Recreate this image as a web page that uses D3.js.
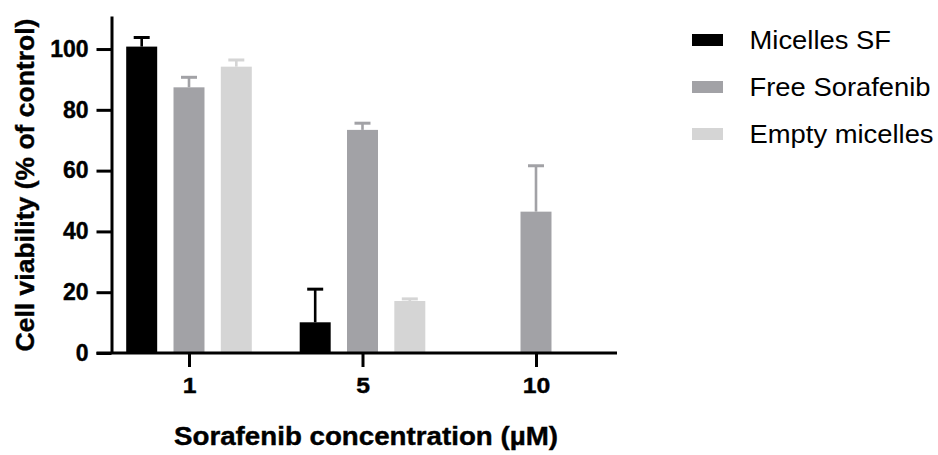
<!DOCTYPE html>
<html>
<head>
<meta charset="utf-8">
<script src="https://cdn.jsdelivr.net/npm/d3@7"></script>
<style>
  body { margin: 0; background: #fff; }
  text { font-family: "Liberation Sans", Arial, sans-serif; }
</style>
</head>
<body>
<svg id="chart" width="938" height="455"></svg>
<script>
// data
var concentrations = ["1", "5", "10"];
var seriesNames = ["Micelles SF", "Free Sorafenib", "Empty micelles"];
var seriesColors = ["#000000", "#a2a2a6", "#d5d5d5"];
var micellesSF = [100.8, 10.1, null];
var micellesSFErr = [3.0, 10.9, null];
var freeSorafenib = [87.4, 73.4, 46.5];
var freeSorafenibErr = [3.3, 2.2, 15.1];
var emptyMicelles = [94.2, 17.1, null];
var emptyMicellesErr = [2.2, 0.7, null];
var yTicks = [0, 20, 40, 60, 80, 100];

var values = [micellesSF, freeSorafenib, emptyMicelles];
var errors = [micellesSFErr, freeSorafenibErr, emptyMicellesErr];

var svg = d3.select("#chart");

var y = d3.scaleLinear().domain([0, 110.9]).range([353, 15.9]);
var x0 = d3.scalePoint().domain(concentrations).range([189, 536]);
var x1 = d3.scaleBand().domain(seriesNames).range([-62.8, 62.8]).paddingInner(0.345);

// stretch text a little wider, the source picture renders it that way
function widen(sel, k) {
  sel.each(function() {
    var len = this.getComputedTextLength();
    d3.select(this).attr("textLength", len * k).attr("lengthAdjust", "spacingAndGlyphs");
  });
}

var aBars = [];
seriesNames.forEach(function(s, i) {
  concentrations.forEach(function(c, j) {
    if (values[i][j] != null) {
      aBars.push({ s: s, c: c, v: values[i][j], e: errors[i][j], color: seriesColors[i] });
    }
  });
});

var g = svg.append("g");

g.selectAll("rect.bar").data(aBars).enter().append("rect")
  .attr("class", "bar")
  .attr("x", function(d) { return x0(d.c) + x1(d.s); })
  .attr("width", x1.bandwidth())
  .attr("y", function(d) { return y(d.v); })
  .attr("height", function(d) { return y(0) - y(d.v); })
  .attr("fill", function(d) { return d.color; });

// error bars (upper only)
function cx(d) { return x0(d.c) + x1(d.s) + x1.bandwidth() / 2; }
var selErr = g.selectAll("g.err").data(aBars).enter().append("g").attr("class", "err");
selErr.append("line")
  .attr("x1", cx).attr("x2", cx)
  .attr("y1", function(d) { return y(d.v); })
  .attr("y2", function(d) { return y(d.v + d.e); })
  .attr("stroke", function(d) { return d.color; })
  .attr("stroke-width", 2.6);
selErr.append("line")
  .attr("x1", function(d) { return cx(d) - 8; })
  .attr("x2", function(d) { return cx(d) + 8; })
  .attr("y1", function(d) { return y(d.v + d.e); })
  .attr("y2", function(d) { return y(d.v + d.e); })
  .attr("stroke", function(d) { return d.color; })
  .attr("stroke-width", 3);

// y axis
var yAxis = svg.append("g")
  .attr("transform", "translate(111.5,0)")
  .call(d3.axisLeft(y).tickValues(yTicks).tickSize(15).tickPadding(8).tickSizeOuter(0));
yAxis.select(".domain").attr("stroke", "#000").attr("stroke-width", 3);
yAxis.selectAll(".tick line").attr("stroke", "#000").attr("stroke-width", 3);
yAxis.selectAll(".tick text")
  .attr("font-size", 23).attr("font-weight", "bold").attr("fill", "#000")
  .attr("stroke", "#000").attr("stroke-width", 0.4)
  .attr("font-family", "Liberation Sans, Arial, sans-serif");

// x axis
svg.append("line")
  .attr("x1", 96.5).attr("x2", 617).attr("y1", y(0)).attr("y2", y(0))
  .attr("stroke", "#000").attr("stroke-width", 3);
var xAxis = svg.append("g")
  .attr("transform", "translate(0," + y(0) + ")")
  .call(d3.axisBottom(x0).tickSize(14).tickPadding(10).tickSizeOuter(0));
xAxis.select(".domain").remove();
xAxis.selectAll(".tick line").attr("stroke", "#000").attr("stroke-width", 3);
xAxis.selectAll(".tick text")
  .attr("font-size", 22.5).attr("font-weight", "bold").attr("fill", "#000")
  .attr("stroke", "#000").attr("stroke-width", 0.4)
  .attr("font-family", "Liberation Sans, Arial, sans-serif")
  .call(widen, 1.1);

// titles
svg.append("text")
  .attr("x", 366).attr("y", 445)
  .attr("text-anchor", "middle")
  .attr("font-size", 25.6).attr("font-weight", "bold")
  .attr("stroke", "#000").attr("stroke-width", 0.4)
  .text("Sorafenib concentration (µM)")
  .call(widen, 1.083);

svg.append("text")
  .attr("transform", "translate(34,185) rotate(-90)")
  .attr("text-anchor", "middle")
  .attr("font-size", 26.5).attr("font-weight", "bold")
  .attr("stroke", "#000").attr("stroke-width", 0.4)
  .text("Cell viability (% of control)");

// legend
var legend = svg.append("g").attr("transform", "translate(692,40)");
var selLeg = legend.selectAll("g").data(seriesNames).enter().append("g")
  .attr("transform", function(d, i) { return "translate(0," + (i * 47) + ")"; });
selLeg.append("rect")
  .attr("x", 0).attr("y", -6).attr("width", 31).attr("height", 12)
  .attr("fill", function(d, i) { return seriesColors[i]; });
selLeg.append("text")
  .attr("x", 57.5).attr("y", 9)
  .attr("font-size", 25)
  .attr("fill", "#000")
  .text(function(d) { return d; })
  .call(widen, 1.095);
</script>
</body>
</html>
